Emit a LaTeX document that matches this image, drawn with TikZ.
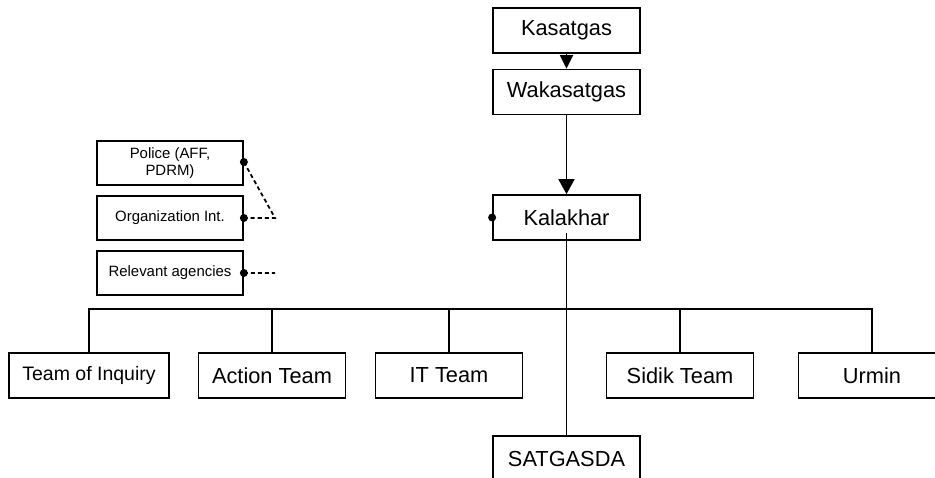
\documentclass[tikz,border=0pt]{standalone}
\usepackage{fontspec}
\setmainfont{Liberation Sans}
\usetikzlibrary{arrows.meta}
\begin{document}
\begin{tikzpicture}[x=0.02cm,y=-0.02cm,line width=1pt,
    box/.style={draw,minimum width=2.94cm,minimum height=0.9cm,inner sep=0pt,font=\fontsize{12.4}{14}\selectfont},
    smallbox/.style={draw,minimum width=2.92cm,minimum height=0.88cm,inner sep=0pt,align=center,font=\fontsize{8.5}{9.6}\selectfont},
    dot/.style={circle,fill,inner sep=0pt,minimum size=0.16cm},
    link/.style={dash pattern=on 2.3pt off 1.7pt},
    tip/.style={-{Triangle[length=0.27cm,width=0.26cm]}}]
    \useasboundingbox (0,0) rectangle (935,477);
    \clip (0,0) rectangle (935,477);
    \node[box] (kas) at (566.5,30.5) {Kasatgas};
    \node[box] (wak) at (566.5,92) {Wakasatgas};
    \node[box] (kal) at (566.5,217.5) {Kalakhar};
    \node[smallbox] (pol) at (170,163) {Police (AFF,\\PDRM)};
    \node[smallbox] (org) at (170,218) {Organization Int.};
    \node[smallbox] (rel) at (170,273) {Relevant agencies};
    \node[box,minimum width=3.2cm,font=\fontsize{11.1}{13}\selectfont] (toi) at (89,375.5) {Team of Inquiry};
    \node[box] (act) at (272,375.5) {Action Team};
    \node[box] (itt) at (449,375.5) {IT Team};
    \node[box] (sid) at (680,375.5) {Sidik Team};
    \node[box] (urm) at (872,375.5) {Urmin};
    \node[box] (sat) at (566.5,458.5) {SATGASDA};
    \coordinate (bus) at (566.5,309);
    \coordinate (join) at (275,218);
    \coordinate (free) at (275,273);
    \draw[tip] (kas) -- (wak);
    \draw[tip,-{Triangle[length=0.3cm,width=0.32cm]}] (wak) -- (kal);
    \draw ([yshift=0.16cm]kal.south) -- (sat.north);
    \draw (toi.north) |- (bus) -| (urm.north);
    \draw (act.north) -- (act.north |- bus)
          (itt.north) -- (itt.north |- bus)
          (sid.north) -- (sid.north |- bus);
    \node[dot] (kaldot) at (kal.west) {};
    \node[dot] (poldot) at ([yshift=0.02cm]pol.east) {};
    \node[dot] (orgdot) at (org.east) {};
    \node[dot] (reldot) at (rel.east) {};
    \draw[link] (poldot.center) -- (join) -- (orgdot.center)
          (reldot.center) -- (free);
\end{tikzpicture}
\end{document}
